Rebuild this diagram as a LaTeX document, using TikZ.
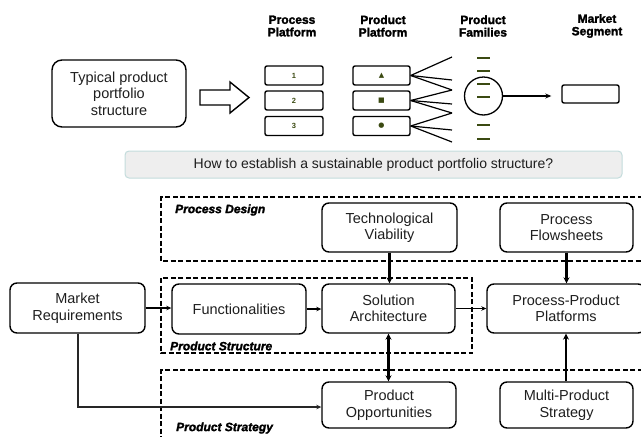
\documentclass[tikz,border=0pt]{standalone}
\usepackage{fontspec}
\setmainfont{Liberation Sans}
\newfontfamily\symfont{DejaVu Sans}
\newfontfamily\heavyfont{Liberation Sans}[FakeBold=2]
\usetikzlibrary{arrows.meta}
\definecolor{olivebox}{HTML}{3B4A12}
\definecolor{bannerfill}{HTML}{EEEEEE}
\definecolor{bannerline}{HTML}{C3DCDC}
\definecolor{txt}{HTML}{1E1E1E}
\tikzset{
  x=1pt, y=-1pt,
  mainbox/.style={draw=black, line width=1.4pt, rounded corners=7pt, inner sep=0pt, align=center, text=txt, font=\fontsize{14.5}{16.5}\selectfont},
  smallbox/.style={draw=black, line width=1.4pt, rounded corners=2pt, inner sep=0pt, minimum height=19pt, font=\fontsize{7.5}{8}\selectfont\bfseries, text=olivebox},
  header/.style={align=center, font=\heavyfont\bfseries\fontsize{12}{12.5}\selectfont, inner sep=0pt},
  area/.style={draw=black, line width=1.3pt, dash pattern=on 5pt off 2.5pt},
  arealabel/.style={anchor=west, inner sep=0pt, font=\heavyfont\bfseries\itshape\fontsize{12}{13}\selectfont},
  thinarrow/.style={line width=1.3pt, -{Stealth[length=5pt,width=4.5pt]}},
  thickarrow/.style={line width=2.4pt, -{Stealth[length=6pt,width=6pt]}},
  fan/.style={line width=1.2pt},
  famdash/.style={line width=1.6pt, draw=olivebox}
}
\begin{document}
\begin{tikzpicture}
\useasboundingbox (0,0) rectangle (641,437);

% ---------- top section ----------
\node[mainbox, minimum width=134pt, minimum height=67pt, rounded corners=10pt] (typ) at (119,93.5) {Typical product\\portfolio\\structure};
\draw[line width=1.4pt] (200,90) -- (230,90) -- (230,82) -- (249,97.5) -- (230,113) -- (230,105) -- (200,105) -- cycle;

\node[header] (hpp) at (292,26) {Process\\Platform};
\node[header] (hpr) at (383,26) {Product\\Platform};
\node[header] (hpf) at (483,26) {Product\\Families};
\node[header] (hms) at (597,26) {Market\\Segment};

\node[smallbox, minimum width=58pt] (p1) at (294,75.5) {1};
\node[smallbox, minimum width=58pt] (p2) at (294,100.5) {2};
\node[smallbox, minimum width=58pt] (p3) at (294,126) {3};

\node[smallbox, minimum width=57pt] (q1) at (381.5,75.5) {\symfont\fontsize{7}{7}\selectfont ▲};
\node[smallbox, minimum width=57pt] (q2) at (381.5,100.5) {\symfont\fontsize{7}{7}\selectfont ■};
\node[smallbox, minimum width=57pt] (q3) at (381.5,126) {\symfont\fontsize{7}{7}\selectfont ●};

\coordinate (e1) at (452,57);
\coordinate (e2) at (452,80);
\coordinate (e3) at (452,90);
\coordinate (e4) at (452,104);
\coordinate (e5) at (452,113);
\coordinate (e6) at (452,130);
\coordinate (e7) at (452,142);
\draw[fan] (q1.east) -- (e1);
\draw[fan] (q1.east) -- (e2);
\draw[fan] (q1.east) -- (e3);
\draw[fan] (q2.east) -- (e3);
\draw[fan] (q2.east) -- (e4);
\draw[fan] (q2.east) -- (e5);
\draw[fan] (q3.east) -- (e5);
\draw[fan] (q3.east) -- (e6);
\draw[fan] (q3.east) -- (e7);

\foreach \yy in {58,71,84,97,125,139} \draw[famdash] (477,\yy) -- (490,\yy);
\node[draw=black, line width=1.3pt, circle, minimum size=38pt, inner sep=0pt] (fam) at (483.5,96) {};
\node[smallbox, minimum width=57pt, minimum height=18pt] (ms) at (590.5,94) {};
\draw[line width=1.1pt, -{Stealth[length=6pt,width=5pt]}] (fam.east) -- ([xshift=-10pt]ms.west |- fam.east);

\node[draw=bannerline, fill=bannerfill, line width=1pt, rounded corners=4pt, minimum width=497pt, minimum height=27pt, inner sep=0pt, font=\fontsize{14}{16}\selectfont, text=txt] (ban) at (373.5,164.5) {How to establish a sustainable product portfolio structure?};

% ---------- bottom section ----------
\draw[area] (650,197) -- (161,197) -- (161,261) -- (650,261);
\draw[area] (161,278) rectangle (472,353);
\draw[area] (650,370) -- (161,370) -- (161,445);
\node[arealabel] (lpd) at (175,210) {Process Design};
\node[arealabel] (lps) at (170,346) {Product Structure};
\node[arealabel] (lpst) at (176,428) {Product Strategy};

\node[mainbox, minimum width=135pt, minimum height=50pt] (mr) at (77.5,308) {Market\\Requirements};
\node[mainbox, minimum width=134pt, minimum height=50pt] (fu) at (239,309) {Functionalities};
\node[mainbox, minimum width=133pt, minimum height=49pt] (sa) at (388.5,308.5) {Solution\\Architecture};
\node[mainbox, minimum width=158pt, minimum height=49pt] (ppp) at (566,308.5) {Process-Product\\Platforms};
\node[mainbox, minimum width=135pt, minimum height=49pt] (tv) at (389.5,227.5) {Technological\\Viability};
\node[mainbox, minimum width=133pt, minimum height=49pt] (pf) at (566.5,227.5) {Process\\Flowsheets};
\node[mainbox, minimum width=134pt, minimum height=46pt] (po) at (389,405) {Product\\Opportunities};
\node[mainbox, minimum width=133pt, minimum height=46pt] (mps) at (566.5,405) {Multi-Product\\Strategy};

\draw[thinarrow] (mr.east) -- (mr.east -| fu.west);
\draw[thinarrow] (fu.east) -- (fu.east -| sa.west);
\draw[thinarrow] (sa.east) -- (sa.east -| ppp.west);
\draw[thickarrow] (tv.south) -- (tv.south |- sa.north);
\draw[thickarrow] (pf.south) -- (pf.south |- ppp.north);
\draw[thickarrow, {Stealth[length=6pt,width=6pt]}-{Stealth[length=6pt,width=6pt]}] (sa.south) -- (sa.south |- po.north);
\draw[thickarrow] (mps.north -| ppp.south) -- (ppp.south);
\coordinate (mrbend) at (78,407);
\draw[line width=1.3pt, draw=black!85, -{Stealth[length=5pt,width=4.5pt]}] (mr.south -| mrbend) -- (mrbend) -- (mrbend -| po.west);
\end{tikzpicture}
\end{document}
